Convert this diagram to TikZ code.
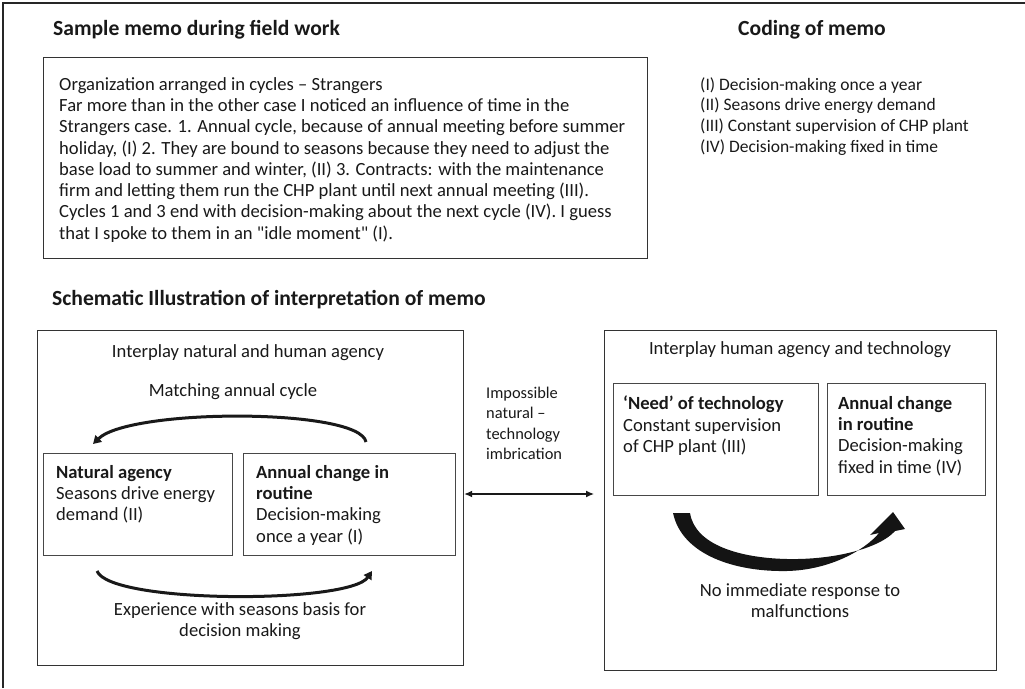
\documentclass[tikz,border=0pt]{standalone}
\usepackage{fontspec}
\setmainfont{Carlito}
\newfontfamily\plainq{Carlito}
\usetikzlibrary{arrows.meta,calc}
\begin{document}
\begin{tikzpicture}[x=1pt,y=-1pt,
  box/.style={draw=black!80, line width=1.2pt, anchor=north west, inner sep=0pt},
  ibox/.style={draw=black!72, line width=1pt, anchor=north west, inner sep=0pt},
  body/.style={inner sep=0pt, font=\fontsize{18.6}{21.3}\selectfont, text=black!90},
  small/.style={inner sep=0pt, font=\fontsize{16.4}{20.3}\selectfont, text=black!90},
  code/.style={inner sep=0pt, font=\fontsize{17.5}{20.8}\selectfont, text=black!90},
  ttl/.style={inner sep=0pt, anchor=west, font=\fontsize{21.6}{25}\selectfont\bfseries, text=black!90},
  arc/.style={line width=3pt, black!90},
]
\useasboundingbox (0,0) rectangle (1025,688);
\draw[line width=1.3pt, black!85] (3,688) -- (3,3) -- (1025,3);

% titles
\node[ttl] (t1) at (53,30) {Sample memo during field work};
\node[ttl] (t2) at (738,30) {Coding of memo};
\node[ttl] (t3) at (52,300) {Schematic Illustration of interpretation of memo};

% memo
\node[box, minimum width=604, minimum height=201] (memo) at (43,57) {};
\node[body, anchor=north west, align=left] (memotext) at (59,77) {Organization arranged in cycles – Strangers\\
Far more than in the other case I noticed an influence of time in the\\
Strangers case. 1. Annual cycle, because of annual meeting before summer\\
holiday, (I) 2. They are bound to seasons because they need to adjust the\\
base load to summer and winter, (II) 3. Contracts: with the maintenance\\
firm and letting them run the CHP plant until next annual meeting (III).\\
Cycles 1 and 3 end with decision-making about the next cycle (IV). I guess\\
that I spoke to them in an {\plainq\textquotedbl}idle moment{\plainq\textquotedbl} (I).};

% coding
\node[code, anchor=north west, align=left] (coding) at (700,77) {(I) Decision-making once a year\\
(II) Seasons drive energy demand\\
(III) Constant supervision of CHP plant\\
(IV) Decision-making fixed in time};

% left big box
\node[box, minimum width=426, minimum height=335] (lbox) at (37,330) {};
\node[body, anchor=center] (ltitle) at (248,353) {Interplay natural and human agency};
\node[body, anchor=center] (lcycle) at (233,392) {Matching annual cycle};
\node[ibox, minimum width=189, minimum height=102] (nat) at (43,453) {};
\node[ibox, minimum width=212, minimum height=102] (ann) at (243,453) {};
\node[body, anchor=north west, align=left] (nattext) at (56,465) {\textbf{Natural agency}\\Seasons drive energy\\demand (II)};
\node[body, anchor=north west, align=left] (anntext) at (256,465) {\textbf{Annual change in}\\\textbf{routine}\\Decision-making\\once a year (I)};
\node[body, anchor=north, align=center] (lexp) at (240,602) {Experience with seasons basis for\\decision making};

\coordinate (a1s) at (366,442);
\coordinate (a1e) at (93,444);
\draw[arc, -{Triangle[width=9pt,length=8pt]}] (a1s) .. controls (360,408) and (130,408) .. (a1e);
\coordinate (a2s) at (97,571);
\coordinate (a2e) at (372,571);
\draw[arc, -{Triangle[width=9pt,length=8pt]}] (a2s) .. controls (110,604) and (350,604) .. (a2e);

% middle
\node[small, anchor=north west, align=left] (imp) at (486,387) {Impossible\\natural –\\technology\\imbrication};

% right big box
\node[box, minimum width=392, minimum height=340] (rbox) at (604,330) {};
\node[body, anchor=center] (rtitle) at (800,350) {Interplay human agency and technology};
\node[ibox, minimum width=205, minimum height=112] (need) at (613,383) {};
\node[ibox, minimum width=158, minimum height=112] (rann) at (827,383) {};
\node[body, anchor=north west, align=left] (needtext) at (623,396) {\textbf{‘Need’ of technology}\\Constant supervision\\of CHP plant (III)};
\node[body, anchor=north west, align=left] (ranntext) at (838,396) {\textbf{Annual change}\\\textbf{in routine}\\Decision-making\\fixed in time (IV)};
\node[body, anchor=north, align=center] (rresp) at (800,583) {No immediate response to\\malfunctions};

\draw[line width=1.3pt, black!90, {Latex[length=8pt,width=7pt]}-{Latex[length=8pt,width=7pt]}] (lbox.east |- 0,494) coordinate (dl) -- (594,494) coordinate (dr);

% big curved arrow
\fill[black!92] (673,513) .. controls (682,555) and (735,572) .. (787,571) .. controls (830,570) and (865,550) .. (879,533) -- (870,535) -- (893,512) -- (905,529) -- (895,531) .. controls (880,548) and (835,560) .. (787,559) .. controls (740,558) and (695,545) .. (690,513) -- cycle;
\end{tikzpicture}
\end{document}
